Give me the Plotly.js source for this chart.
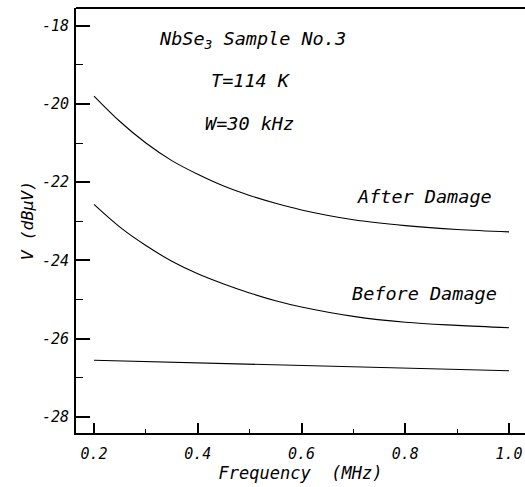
<!DOCTYPE html>
<html>
<head>
<meta charset="utf-8">
<script src="https://cdn.plot.ly/plotly-3.0.1.min.js"></script>
<style>html,body{margin:0;padding:0;background:#fff;}</style>
</head>
<body>
<div id="chart" style="width:525px;height:487px;"></div>
<script>
// Frequency (MHz) sample points
const freqAfter = [0.2, 0.25, 0.3, 0.35, 0.4, 0.45, 0.5, 0.55, 0.6, 0.7, 0.8, 0.9, 1.0];
const vAfter = [-19.80, -20.45, -21.00, -21.45, -21.80, -22.10, -22.34, -22.54, -22.71, -22.96, -23.11, -23.21, -23.27];

const freqBefore = [0.2, 0.25, 0.3, 0.35, 0.4, 0.45, 0.5, 0.55, 0.6, 0.7, 0.8, 0.9, 1.0];
const vBefore = [-22.57, -23.15, -23.62, -24.02, -24.34, -24.60, -24.83, -25.03, -25.19, -25.43, -25.58, -25.66, -25.72];

const freqBase = [0.2, 0.4, 0.6, 0.8, 1.0];
const vBase = [-26.55, -26.62, -26.69, -26.76, -26.82];

const xTickVals = [0.2, 0.4, 0.6, 0.8, 1.0];
const xTickText = ['0.2', '0.4', '0.6', '0.8', '1.0'];
const yTickVals = [-28, -26, -24, -22, -20, -18];
const yTickText = ['-28', '-26', '-24', '-22', '-20', '-18'];

const FONT = 'DejaVu Sans Mono, monospace';
const lineStyle = {color: '#000', width: 1.1, shape: 'spline', smoothing: 1};

const traces = [
  {x: freqAfter, y: vAfter, mode: 'lines', line: lineStyle, name: 'After Damage'},
  {x: freqBefore, y: vBefore, mode: 'lines', line: lineStyle, name: 'Before Damage'},
  {x: freqBase, y: vBase, mode: 'lines', line: {color: '#000', width: 1.1}, name: 'Baseline'}
];

const annFont = {family: FONT, size: 18.5, color: '#000', style: 'italic'};
const layout = {
  width: 525, height: 487,
  margin: {l: 76, r: 0, t: 8, b: 54},
  paper_bgcolor: '#fff', plot_bgcolor: '#fff',
  showlegend: false,
  xaxis: {
    range: [0.1653, 1.0308],
    tickvals: xTickVals, ticktext: xTickText,
    ticks: 'inside', ticklen: 10, tickwidth: 2, tickcolor: '#000',
    minor: {ticks: 'inside', ticklen: 4, tickwidth: 1, tickcolor: '#000', tick0: 0.1, dtick: 0.2},
    showline: true, linecolor: '#000', linewidth: 2,
    showgrid: false, zeroline: false,
    ticklabelstandoff: 6,
    tickfont: {family: FONT, size: 15, color: '#000', style: 'italic'},
    title: {text: 'Frequency\u00a0\u00a0(MHz)', font: {family: FONT, size: 17, color: '#000', style: 'italic'}, standoff: 5}
  },
  yaxis: {
    range: [-28.41, -17.55],
    tickvals: yTickVals, ticktext: yTickText,
    ticks: 'inside', ticklen: 14, tickwidth: 2, tickcolor: '#000',
    minor: {ticks: 'inside', ticklen: 7, tickwidth: 1, tickcolor: '#000', tick0: -27, dtick: 2},
    showline: true, linecolor: '#000', linewidth: 2,
    showgrid: false, zeroline: false,
    ticklabelstandoff: 2,
    tickfont: {family: FONT, size: 15, color: '#000', style: 'italic'},
    title: {text: 'V (dBμV)', font: {family: FONT, size: 16.5, color: '#000', style: 'italic'}, standoff: 4}
  },
  shapes: [
    {type: 'line', xref: 'paper', yref: 'paper', x0: 0, x1: 1, y0: 1, y1: 1, line: {color: '#000', width: 2}}
  ],
  annotations: [
    {x: 0.5055, y: -18.36, xref: 'x', yref: 'y', text: 'NbSe<sub>3</sub> Sample No.3', showarrow: false, font: annFont},
    {x: 0.5027, y: -19.41, xref: 'x', yref: 'y', text: 'T=114 K', showarrow: false, font: annFont},
    {x: 0.4988, y: -20.49, xref: 'x', yref: 'y', text: 'W=30 kHz', showarrow: false, font: annFont},
    {x: 0.838, y: -22.36, xref: 'x', yref: 'y', text: 'After Damage', showarrow: false, font: annFont},
    {x: 0.838, y: -24.85, xref: 'x', yref: 'y', text: 'Before Damage', showarrow: false, font: annFont}
  ]
};

Plotly.newPlot('chart', traces, layout, {displayModeBar: false, staticPlot: true});
</script>
</body>
</html>
